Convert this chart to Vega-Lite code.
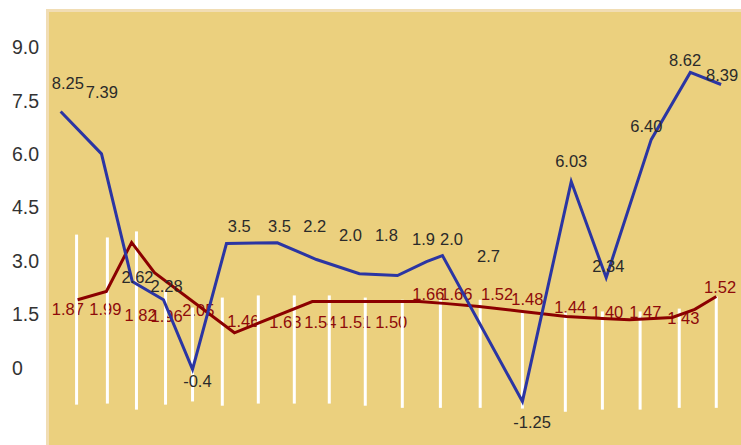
{
  "$schema": "https://vega.github.io/schema/vega-lite/v6.json",
  "width": 720,
  "height": 450,
  "autosize": {"type": "none"},
  "padding": {"left": 47.5, "top": 10.5, "right": 0, "bottom": 0},
  "background": "#ffffff",
  "config": {
    "view": {"fill": "#EBD07E", "stroke": "#F1DDB4", "strokeWidth": 3},
    "font": "Liberation Sans"
  },
  "datasets": {
    "blue": [
      {"t": 0.38, "v": 7.21}, {"t": 1.56, "v": 6.02}, {"t": 2.45, "v": 2.43},
      {"t": 3.35, "v": 1.92}, {"t": 4.19, "v": -0.04}, {"t": 5.17, "v": 3.5},
      {"t": 6.64, "v": 3.52}, {"t": 7.77, "v": 3.05}, {"t": 9.01, "v": 2.65},
      {"t": 10.11, "v": 2.6}, {"t": 10.95, "v": 2.99}, {"t": 11.41, "v": 3.16},
      {"t": 13.72, "v": -0.94}, {"t": 15.13, "v": 5.24}, {"t": 16.14, "v": 2.54},
      {"t": 17.44, "v": 6.42}, {"t": 18.57, "v": 8.31}, {"t": 19.46, "v": 7.97}
    ],
    "red": [
      {"t": 0.87, "v": 1.92}, {"t": 1.7, "v": 2.15}, {"t": 2.43, "v": 3.53},
      {"t": 3.09, "v": 2.68}, {"t": 5.4, "v": 0.99}, {"t": 7.65, "v": 1.87},
      {"t": 10.74, "v": 1.87}, {"t": 11.53, "v": 1.81}, {"t": 12.47, "v": 1.73},
      {"t": 13.72, "v": 1.59}, {"t": 14.99, "v": 1.45}, {"t": 16.03, "v": 1.39},
      {"t": 16.81, "v": 1.36}, {"t": 18.05, "v": 1.42}, {"t": 18.7, "v": 1.65},
      {"t": 19.32, "v": 2.01}
    ],
    "rules": [
      {"t": 0.84, "hi": 3.75, "lo": -1.03}, {"t": 1.73, "hi": 3.67, "lo": -1.0},
      {"t": 2.57, "hi": 3.84, "lo": -1.17}, {"t": 3.41, "hi": 2.2, "lo": -1.03},
      {"t": 4.19, "hi": 1.7, "lo": -0.94}, {"t": 5.05, "hi": 1.98, "lo": -1.06},
      {"t": 6.09, "hi": 2.04, "lo": -1.0}, {"t": 7.13, "hi": 2.04, "lo": -1.0},
      {"t": 8.14, "hi": 2.04, "lo": -1.0}, {"t": 9.18, "hi": 1.98, "lo": -1.06},
      {"t": 10.25, "hi": 1.92, "lo": -1.12}, {"t": 11.35, "hi": 1.92, "lo": -1.12},
      {"t": 12.5, "hi": 1.92, "lo": -1.12}, {"t": 13.72, "hi": 1.59, "lo": -1.14},
      {"t": 14.96, "hi": 1.56, "lo": -1.23}, {"t": 16.03, "hi": 1.59, "lo": -1.17},
      {"t": 17.12, "hi": 1.59, "lo": -1.17}, {"t": 18.25, "hi": 1.67, "lo": -1.12},
      {"t": 19.32, "hi": 2.01, "lo": -1.12}
    ],
    "bluelabels": [
      {"t": 0.59, "v": 7.97, "label": "8.25"}, {"t": 1.57, "v": 7.74, "label": "7.39"},
      {"t": 2.6, "v": 2.54, "label": "2.62"}, {"t": 3.44, "v": 2.28, "label": "2.28"},
      {"t": 4.33, "v": -0.38, "label": "-0.4"}, {"t": 5.54, "v": 3.95, "label": "3.5"},
      {"t": 6.7, "v": 3.95, "label": "3.5"}, {"t": 7.72, "v": 3.95, "label": "2.2"},
      {"t": 8.75, "v": 3.72, "label": "2.0"}, {"t": 9.79, "v": 3.72, "label": "1.8"},
      {"t": 10.86, "v": 3.61, "label": "1.9"}, {"t": 11.67, "v": 3.61, "label": "2.0"},
      {"t": 12.74, "v": 3.13, "label": "2.7"}, {"t": 14.0, "v": -1.54, "label": "-1.25"},
      {"t": 15.13, "v": 5.78, "label": "6.03"}, {"t": 16.2, "v": 2.85, "label": "2.34"},
      {"t": 17.3, "v": 6.77, "label": "6.40"}, {"t": 18.42, "v": 8.64, "label": "8.62"},
      {"t": 19.49, "v": 8.22, "label": "8.39"}
    ],
    "redlabels": [
      {"t": 0.59, "v": 1.64, "label": "1.87"}, {"t": 1.67, "v": 1.64, "label": "1.99"},
      {"t": 2.69, "v": 1.45, "label": "1.82"}, {"t": 3.44, "v": 1.42, "label": "1.96"},
      {"t": 4.36, "v": 1.61, "label": "2.05"}, {"t": 5.66, "v": 1.3, "label": "1.46"},
      {"t": 6.87, "v": 1.27, "label": "1.63"}, {"t": 7.88, "v": 1.27, "label": "1.54"},
      {"t": 8.89, "v": 1.27, "label": "1.51"}, {"t": 9.93, "v": 1.27, "label": "1.50"},
      {"t": 11.0, "v": 2.06, "label": "1.66"}, {"t": 11.81, "v": 2.06, "label": "1.66"},
      {"t": 12.99, "v": 2.06, "label": "1.52"}, {"t": 13.86, "v": 1.92, "label": "1.48"},
      {"t": 15.1, "v": 1.7, "label": "1.44"}, {"t": 16.17, "v": 1.56, "label": "1.40"},
      {"t": 17.27, "v": 1.56, "label": "1.47"}, {"t": 18.37, "v": 1.39, "label": "1.43"},
      {"t": 19.43, "v": 2.26, "label": "1.52"}
    ]
  },
  "encoding": {
    "x": {"field": "t", "type": "quantitative", "scale": {"domain": [0, 20.8], "nice": false, "zero": false}, "axis": null},
    "y": {"field": "v", "type": "quantitative", "scale": {"domain": [-2.6, 10.05], "nice": false, "zero": false},
      "axis": {"title": null, "values": [0, 1.5, 3, 4.5, 6, 7.5, 9], "labelExpr": "datum.value == 0 ? '0' : format(datum.value, '.1f')",
        "domain": false, "ticks": false, "tickSize": 0, "grid": false, "labelAlign": "left", "labelPadding": 36,
        "labelFontSize": 19.5, "labelColor": "#333333", "labelFont": "Liberation Sans", "labelBaseline": "middle"}}
  },
  "layer": [
    {
      "data": {"name": "redlabels"},
      "mark": {"type": "text", "fontSize": 16.5, "color": "#8E0A0A", "baseline": "middle", "align": "center"},
      "encoding": {"text": {"field": "label"}}
    },
    {
      "data": {"name": "rules"},
      "mark": {"type": "rule", "color": "#FFFFFF", "strokeWidth": 3},
      "encoding": {"y": {"field": "hi", "type": "quantitative"}, "y2": {"field": "lo"}}
    },
    {
      "data": {"name": "red"},
      "mark": {"type": "line", "color": "#8B0000", "strokeWidth": 3},
      "encoding": {}
    },
    {
      "data": {"name": "blue"},
      "mark": {"type": "line", "color": "#2B35A3", "strokeWidth": 3},
      "encoding": {}
    },
    {
      "data": {"name": "bluelabels"},
      "mark": {"type": "text", "fontSize": 16.5, "color": "#2A2A2A", "baseline": "middle", "align": "center"},
      "encoding": {"text": {"field": "label"}}
    }
  ]
}
